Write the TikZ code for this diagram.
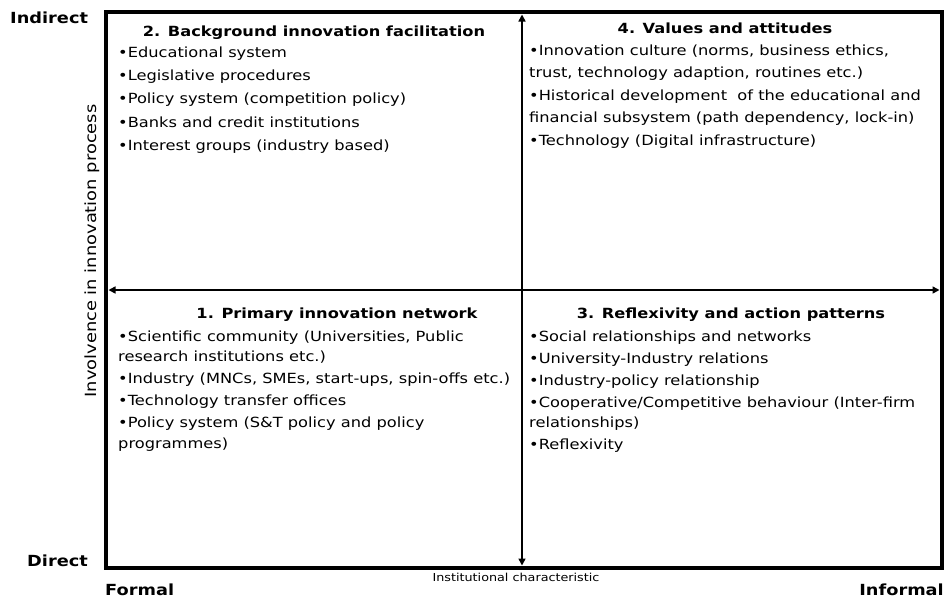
\documentclass[tikz,border=0pt]{standalone}
\usepackage{fontspec}
\setmainfont{DejaVu Sans}[FakeStretch=1.16]
\usetikzlibrary{arrows.meta}
\begin{document}
\begin{tikzpicture}[x=1pt,y=-1pt,
    quadtext/.style={anchor=north west, align=left, inner sep=0pt,
      font=\fontsize{14}{20.5}\selectfont},
    quadtitle/.style={inner sep=0pt, font=\fontsize{14}{16}\selectfont\bfseries},
    endlabel/.style={inner sep=0pt, font=\fontsize{15.3}{18}\selectfont\bfseries},
    axisname/.style={inner sep=0pt, font=\fontsize{11}{13}\selectfont},
    axisarrow/.style={line width=1.6pt,
      {Triangle[length=7pt,width=7pt]}-{Triangle[length=7pt,width=7pt]}}]
    \useasboundingbox (0,0) rectangle (946,600);
    % Cadre
    \coordinate (nw) at (106,12);
    \coordinate (se) at (942,568);
    \draw[line width=4.5pt] (nw) rectangle (se);
    % Axes
    \coordinate (top) at (522,14.5);
    \coordinate (bottom) at (522,565.5);
    \coordinate (left) at (108.5,290);
    \coordinate (right) at (939.5,290);
    \draw[axisarrow] (bottom) -- (top);
    \draw[axisarrow] (left) -- (right);
    % Etiquettes des axes
    \node[endlabel, anchor=west] (indirect) at (10,18) {Indirect};
    \node[endlabel, anchor=east] (direct) at (88,561) {Direct};
    \node[endlabel, anchor=west] (formal) at (105,590) {Formal};
    \node[endlabel, anchor=east] (informal) at (944,590) {Informal};
    \node[axisname] (xname) at (516,577) {Institutional characteristic};
    \node[axisname, rotate=90, font=\fontsize{15.4}{18}\selectfont] (yname) at (92,251)
      {Involvence in innovation process};
    % Quadrant 2
    \node[quadtitle] (t2) at (314,33) {2. Background innovation facilitation};
    \node[quadtext] (q2) at (118,46.5) {%
      •Educational system\\[2.8pt]
      •Legislative procedures\\[2.8pt]
      •Policy system (competition policy)\\[2.8pt]
      •Banks and credit institutions\\[2.8pt]
      •Interest groups (industry based)};
    % Quadrant 4
    \node[quadtitle] (t4) at (725,28.5) {4. Values and attitudes};
    \node[quadtext, font=\fontsize{14}{22}\selectfont] (q4) at (529,44.5) {%
      •Innovation culture (norms, business ethics,\\
      trust, technology adaption, routines etc.)\\[1pt]
      •Historical development\ \ of the educational and\\
      financial subsystem (path dependency, lock-in)\\[1pt]
      •Technology (Digital infrastructure)};
    % Quadrant 1
    \node[quadtitle] (t1) at (337,315) {1. Primary innovation network};
    \node[quadtext] (q1) at (118,330.5) {%
      •Scientific community (Universities, Public\\
      research institutions etc.)\\[1.5pt]
      •Industry (MNCs, SMEs, start-ups, spin-offs etc.)\\[1.5pt]
      •Technology transfer offices\\[1.5pt]
      •Policy system (S\&T policy and policy\\
      programmes)};
    % Quadrant 3
    \node[quadtitle] (t3) at (731,315) {3. Reflexivity and action patterns};
    \node[quadtext] (q3) at (529,330.5) {%
      •Social relationships and networks\\[1.5pt]
      •University-Industry relations\\[1.5pt]
      •Industry-policy relationship\\[1.5pt]
      •Cooperative/Competitive behaviour (Inter-firm\\
      relationships)\\[1.5pt]
      •Reflexivity};
\end{tikzpicture}
\end{document}
